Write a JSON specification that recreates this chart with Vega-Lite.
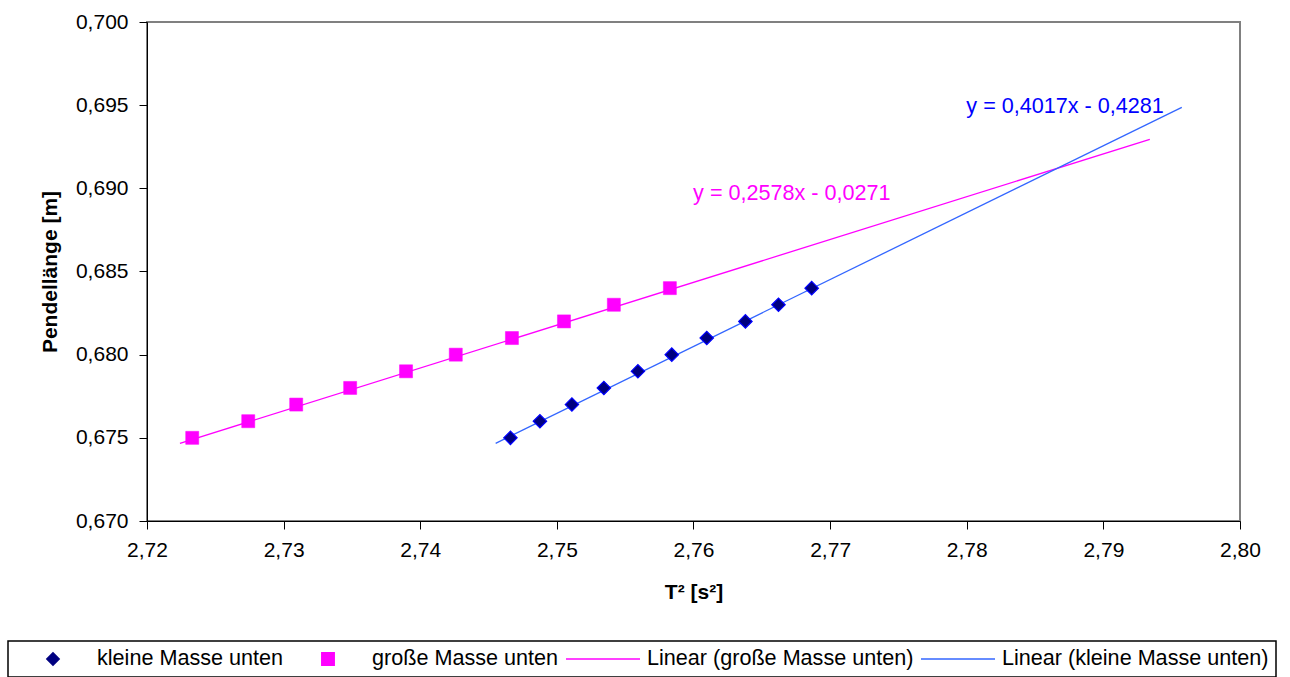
{
  "$schema": "https://vega.github.io/schema/vega-lite/v6.json",
  "autosize": "none",
  "width": 1093,
  "height": 499,
  "padding": {"left": 147, "top": 22, "right": 50, "bottom": 156},
  "background": "white",
  "config": {
    "locale": {"number": {"decimal": ",", "thousands": ".", "grouping": [3], "currency": ["", " €"]}},
    "font": "Liberation Sans",
    "view": {"stroke": "#808080", "strokeWidth": 2},
    "axis": {
      "grid": false,
      "domainColor": "#000000",
      "tickColor": "#000000",
      "labelColor": "#000000",
      "titleColor": "#000000",
      "labelFont": "Liberation Sans",
      "titleFont": "Liberation Sans",
      "labelFontSize": 21,
      "titleFontSize": 21,
      "titleFontWeight": "bold",
      "tickSize": 8,
      "domainWidth": 1,
      "tickWidth": 1,
      "labelFlush": false,
      "labelOverlap": false
    }
  },
  "datasets": {
    "points": [
      {"series": "große Masse unten", "t2": 2.72331, "len": 0.675},
      {"series": "große Masse unten", "t2": 2.72741, "len": 0.676},
      {"series": "große Masse unten", "t2": 2.73092, "len": 0.677},
      {"series": "große Masse unten", "t2": 2.73487, "len": 0.678},
      {"series": "große Masse unten", "t2": 2.73896, "len": 0.679},
      {"series": "große Masse unten", "t2": 2.74260, "len": 0.680},
      {"series": "große Masse unten", "t2": 2.74671, "len": 0.681},
      {"series": "große Masse unten", "t2": 2.75052, "len": 0.682},
      {"series": "große Masse unten", "t2": 2.75417, "len": 0.683},
      {"series": "große Masse unten", "t2": 2.75827, "len": 0.684},
      {"series": "kleine Masse unten", "t2": 2.74660, "len": 0.675},
      {"series": "kleine Masse unten", "t2": 2.74876, "len": 0.676},
      {"series": "kleine Masse unten", "t2": 2.75110, "len": 0.677},
      {"series": "kleine Masse unten", "t2": 2.75344, "len": 0.678},
      {"series": "kleine Masse unten", "t2": 2.75593, "len": 0.679},
      {"series": "kleine Masse unten", "t2": 2.75841, "len": 0.680},
      {"series": "kleine Masse unten", "t2": 2.76097, "len": 0.681},
      {"series": "kleine Masse unten", "t2": 2.76380, "len": 0.682},
      {"series": "kleine Masse unten", "t2": 2.76622, "len": 0.683},
      {"series": "kleine Masse unten", "t2": 2.76865, "len": 0.684}
    ],
    "lines": [
      {"series": "Linear (große Masse unten)", "t2": 2.72241, "len": 0.67467},
      {"series": "Linear (große Masse unten)", "t2": 2.79340, "len": 0.69295},
      {"series": "Linear (kleine Masse unten)", "t2": 2.74552, "len": 0.67467},
      {"series": "Linear (kleine Masse unten)", "t2": 2.79574, "len": 0.69487}
    ],
    "labels": [
      {"which": "gross", "t2": 2.7672, "len": 0.68966, "text": "y = 0,2578x - 0,0271"},
      {"which": "klein", "t2": 2.7872, "len": 0.69489, "text": "y = 0,4017x - 0,4281"}
    ]
  },
  "encoding": {
    "x": {
      "field": "t2", "type": "quantitative",
      "scale": {"domain": [2.72, 2.80], "nice": false, "zero": false},
      "axis": {"title": "T² [s²]", "format": ".2f", "values": [2.72, 2.73, 2.74, 2.75, 2.76, 2.77, 2.78, 2.79, 2.80], "labelPadding": 10, "titlePadding": 21}
    },
    "y": {
      "field": "len", "type": "quantitative",
      "scale": {"domain": [0.670, 0.700], "nice": false, "zero": false},
      "axis": {"title": "Pendellänge [m]", "format": ".3f", "values": [0.670, 0.675, 0.680, 0.685, 0.690, 0.695, 0.700], "labelPadding": 11, "titlePadding": 15}
    }
  },
  "layer": [
    {
      "data": {"name": "lines"},
      "mark": {"type": "line", "strokeWidth": 1.3},
      "encoding": {
        "color": {
          "field": "series", "type": "nominal",
          "scale": {
            "domain": ["kleine Masse unten", "große Masse unten", "Linear (große Masse unten)", "Linear (kleine Masse unten)"],
            "range": ["#000080", "#FF00FF", "#FF00FF", "#3366FF"]
          },
          "legend": {
            "title": null,
            "orient": "none",
            "legendX": -139,
            "legendY": 619,
            "direction": "horizontal",
            "strokeColor": "#000000",
            "padding": 7,
            "fillColor": "white",
            "columnPadding": 6,
            "symbolSize": 5476,
            "clipHeight": 22,
            "labelOffset": 6,
            "labelFont": "Liberation Sans",
            "labelFontSize": 21.6,
            "labelColor": "#000000",
            "labelLimit": 400,
            "symbolStrokeWidth": 1.3,
            "encode": {
              "legend": {"update": {"strokeWidth": {"value": 1.5}}},
              "symbols": {
                "update": {
                  "shape": {"signal": "datum.value == 'kleine Masse unten' ? 'M-1,0 M-0.17,0 L0,-0.17 L0.17,0 L0,0.17 Z' : datum.value == 'große Masse unten' ? 'M-1,0 M-0.17,-0.17 L0.17,-0.17 L0.17,0.17 L-0.17,0.17 Z' : 'stroke'"},
                  "size": {"value": 5476},
                  "fill": {"signal": "datum.value == 'kleine Masse unten' ? '#000080' : datum.value == 'große Masse unten' ? '#FF00FF' : 'transparent'"},
                  "stroke": {"signal": "datum.value == 'kleine Masse unten' ? '#0000FF' : datum.value == 'große Masse unten' ? '#FF00FF' : datum.value == 'Linear (große Masse unten)' ? '#FF00FF' : '#3366FF'"},
                  "strokeWidth": {"value": 1.3},
                  "opacity": {"value": 1}
                }
              }
            }
          }
        },
        "detail": {"field": "series"}
      }
    },
    {
      "data": {"name": "points"},
      "transform": [{"filter": "datum.series == 'kleine Masse unten'"}],
      "mark": {"type": "point", "shape": "diamond", "filled": true, "size": 180, "fill": "#000080", "stroke": "#0000FF", "strokeWidth": 1.2, "opacity": 1}
    },
    {
      "data": {"name": "points"},
      "transform": [{"filter": "datum.series == 'große Masse unten'"}],
      "mark": {"type": "square", "size": 170, "fill": "#FF00FF", "stroke": "#FF00FF", "strokeWidth": 0.5, "opacity": 1}
    },
    {
      "data": {"name": "labels"},
      "transform": [{"filter": "datum.which == 'gross'"}],
      "mark": {"type": "text", "font": "Liberation Sans", "fontSize": 21.6, "color": "#FF00FF", "align": "center", "baseline": "middle"},
      "encoding": {"text": {"field": "text"}}
    },
    {
      "data": {"name": "labels"},
      "transform": [{"filter": "datum.which == 'klein'"}],
      "mark": {"type": "text", "font": "Liberation Sans", "fontSize": 21.6, "color": "#0000FF", "align": "center", "baseline": "middle"},
      "encoding": {"text": {"field": "text"}}
    }
  ]
}
